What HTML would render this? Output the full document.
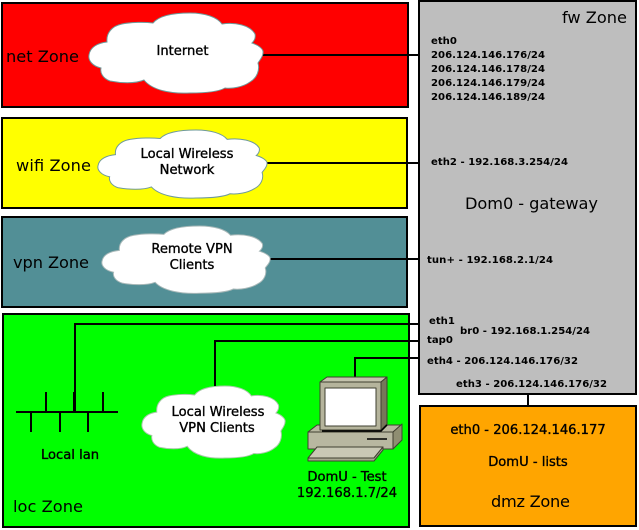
<!DOCTYPE html>
<html><head><meta charset="utf-8"><style>
html,body{margin:0;padding:0;background:#fff}
svg{display:block}
text{font-family:"DejaVu Sans","Liberation Sans",sans-serif;fill:#000}
.z{font-size:16.2px}
.m{font-size:13.1px;stroke:#000;stroke-width:.35px}
.s{font-size:10.1px;font-weight:bold}
.c{text-anchor:middle}
.b{stroke:#000;stroke-width:2;}
.l{stroke:#000;stroke-width:2;fill:none}
.cl{fill:#fff;stroke:#6f9a9a;stroke-width:1;vector-effect:non-scaling-stroke}
.p{stroke:#3f3f30;stroke-width:1;stroke-linejoin:round}
</style></head><body>
<svg width="639" height="530" viewBox="0 0 639 530" xmlns="http://www.w3.org/2000/svg">
<rect x="2" y="3" width="406" height="104" fill="#ff0000" class="b"/>
<rect x="2" y="118" width="405" height="90" fill="#ffff00" class="b"/>
<rect x="2" y="217" width="405" height="90" fill="#528f96" class="b"/>
<rect x="3" y="314" width="406" height="213" fill="#00ff00" class="b"/>
<rect x="419" y="1" width="217" height="393" fill="#bebebe" class="b"/>
<rect x="420" y="406" width="216" height="120" fill="#ffa500" class="b"/>

<path class="l" d="M263 55H419M267 163H419M270 259H419M75 411V324H419M215 386V341H419M355 377V358H419M528 394V406"/>
<path class="l" d="M16 412H118M46 392V412M74 392V412M103 392V412M31 412V432M60 412V432M88 412V432"/>

<path id="cl1" class="cl" d="M89 55C90 47 98 43 107 42C106 33 112 26 122 24C132 22 145 22 153 23C158 17 170 13 190 13C205 13 217 17 222 24C235 22 250 25 255 34C256 38 254 41 252 43C258 45 264 49 263 53C263 57 259 61 258 63C260 70 257 78 250 82C243 87 232 89 225 88C218 92 205 93 190 93C170 94 152 90 144 80C135 84 120 83 110 81C102 78 100 72 101 68C92 66 88 60 89 55Z"/>
<path class="cl" transform="translate(98,130) scale(.971,.85) translate(-89,-13)" d="M89 55C90 47 98 43 107 42C106 33 112 26 122 24C132 22 145 22 153 23C158 17 170 13 190 13C205 13 217 17 222 24C235 22 250 25 255 34C256 38 254 41 252 43C258 45 264 49 263 53C263 57 259 61 258 63C260 70 257 78 250 82C243 87 232 89 225 88C218 92 205 93 190 93C170 94 152 90 144 80C135 84 120 83 110 81C102 78 100 72 101 68C92 66 88 60 89 55Z"/>
<path class="cl" style="stroke:#a8b8b8" transform="translate(102,226) scale(.966,.84) translate(-89,-13)" d="M89 55C90 47 98 43 107 42C106 33 112 26 122 24C132 22 145 22 153 23C158 17 170 13 190 13C205 13 217 17 222 24C235 22 250 25 255 34C256 38 254 41 252 43C258 45 264 49 263 53C263 57 259 61 258 63C260 70 257 78 250 82C243 87 232 89 225 88C218 92 205 93 190 93C170 94 152 90 144 80C135 84 120 83 110 81C102 78 100 72 101 68C92 66 88 60 89 55Z"/>
<path class="cl" style="stroke:#a8c8a8" transform="translate(142,386) scale(.822,.9) translate(-89,-13)" d="M89 55C90 47 98 43 107 42C106 33 112 26 122 24C132 22 145 22 153 23C158 17 170 13 190 13C205 13 217 17 222 24C235 22 250 25 255 34C256 38 254 41 252 43C258 45 264 49 263 53C263 57 259 61 258 63C260 70 257 78 250 82C243 87 232 89 225 88C218 92 205 93 190 93C170 94 152 90 144 80C135 84 120 83 110 81C102 78 100 72 101 68C92 66 88 60 89 55Z"/>

<!-- computer -->
<path class="p" fill="#b8b7a0" d="M308 432L317 425H402L393 432Z"/>
<rect class="p" x="308" y="432" width="85" height="17" fill="#b8b7a0"/>
<path class="p" fill="#8f8e72" d="M393 432L402 424V440L393 449Z"/>
<path d="M367 439H387" stroke="#000" stroke-width="1.5"/>
<path class="p" fill="#c9c8b4" d="M317 447H383L374 458H308Z"/>
<path class="p" fill="#a8a78f" d="M308 458H374L383 447V450L374 461H308Z"/>
<path class="p" fill="#c4c3ad" d="M320 382L327 377H387L381 382Z"/>
<path class="p" fill="#77765a" d="M381 382L387 377V424L381 430Z"/>
<rect class="p" x="320" y="382" width="61" height="48" fill="#b5b49c"/>
<rect class="p" x="325" y="388" width="51" height="38" fill="#fff"/>
<path d="M322 431H381L387 425" stroke="#000" stroke-width="1.5" fill="none"/>

<text class="z" x="6" y="62" textLength="73">net Zone</text>
<text class="z" x="16" y="171" textLength="75">wifi Zone</text>
<text class="z" x="13" y="268" textLength="76">vpn Zone</text>
<text class="z" x="13" y="512" textLength="70">loc Zone</text>
<text class="z" x="562" y="23" textLength="65">fw Zone</text>
<text class="z" x="465" y="209" textLength="133">Dom0 - gateway</text>
<text class="z" x="491" y="507" textLength="79">dmz Zone</text>

<text class="m c" x="182.5" y="55">Internet</text>
<text class="m c" x="187" y="158">Local Wireless</text>
<text class="m c" x="187" y="174">Network</text>
<text class="m c" x="192" y="253">Remote VPN</text>
<text class="m c" x="192" y="269">Clients</text>
<text class="m c" x="218" y="416">Local Wireless</text>
<text class="m c" x="217" y="432">VPN Clients</text>
<text class="m c" x="70" y="459">Local lan</text>
<text class="m c" x="347" y="481">DomU - Test</text>
<text class="m c" x="347" y="497">192.168.1.7/24</text>
<text class="m c" x="528" y="434">eth0 - 206.124.146.177</text>
<text class="m c" x="528" y="466">DomU - lists</text>

<text class="s" x="431" y="44">eth0</text>
<text class="s" x="431" y="58" textLength="114">206.124.146.176/24</text>
<text class="s" x="431" y="72" textLength="114">206.124.146.178/24</text>
<text class="s" x="431" y="86" textLength="114">206.124.146.179/24</text>
<text class="s" x="431" y="100" textLength="114">206.124.146.189/24</text>
<text class="s" x="431" y="165" textLength="137">eth2 - 192.168.3.254/24</text>
<text class="s" x="427" y="263" textLength="126">tun+ - 192.168.2.1/24</text>
<text class="s" x="429" y="324">eth1</text>
<text class="s" x="427" y="343">tap0</text>
<text class="s" x="460" y="334" textLength="130">br0 - 192.168.1.254/24</text>
<text class="s" x="427" y="364" textLength="151">eth4 - 206.124.146.176/32</text>
<text class="s" x="456" y="387" textLength="151">eth3 - 206.124.146.176/32</text>
</svg>
</body></html>
